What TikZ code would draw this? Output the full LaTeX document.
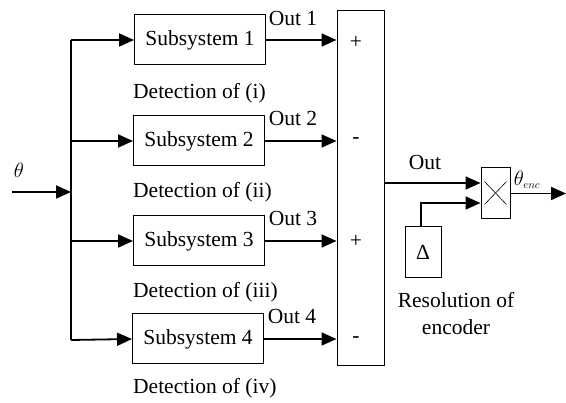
\documentclass[tikz,border=0pt]{standalone}
\usepackage{fontspec}
\setmainfont{Liberation Serif}[Ligatures=TeX]
\newfontfamily\tnr{Liberation Serif}
\usetikzlibrary{arrows.meta}
\begin{document}
\begin{tikzpicture}[x=1pt,y=-1pt,
  every node/.style={font=\tnr\fontsize{21.5}{25}\selectfont},
  blk/.style={draw,line width=1pt,minimum width=131pt,minimum height=50pt,inner sep=0pt},
  wire/.style={line width=1.8pt},
  arr/.style={wire,-{Triangle[length=15pt,width=13pt]}},
  lab/.style={inner sep=0pt},
  det/.style={inner sep=0pt,anchor=west}]
\useasboundingbox (0,0) rectangle (566,403);
% subsystems
\node[blk] (s1) at (200,40) {Subsystem 1};
\node[blk] (s2) at (199,141) {Subsystem 2};
\node[blk] (s3) at (199,241) {Subsystem 3};
\node[blk] (s4) at (198,339) {Subsystem 4};
% sum block
\node[draw,line width=1pt,minimum width=47pt,minimum height=355pt,inner sep=0pt] (sum) at (360.5,188.5) {};
\node[lab] (p1) at (356,42) {+};
\node[lab] (m2) at (356,141) {-};
\node[lab] (p3) at (356,241) {+};
\node[lab] (m4) at (356,340) {-};
% trunk
\coordinate (tt) at (71,40);
\coordinate (tb) at (71,340);
\coordinate (tin) at (71,192);
\coordinate (in) at (12,192);
\draw[wire,line width=1.2pt] (tt) -- (tb);
\draw[arr] (in) -- (tin);
\node[lab] (th) at (19,170) {$\theta$};
\draw[arr] (tt) -- (s1.west);
\draw[arr] (tin |- s2.west) -- (s2.west);
\draw[arr] (tin |- s3.west) -- (s3.west);
\draw[arr] (tb) -- (s4.west);
% outputs
\draw[arr] (s1.east) -- (sum.west |- s1.east);
\draw[arr] (s2.east) -- (sum.west |- s2.east);
\draw[arr] (s3.east) -- (sum.west |- s3.east);
\draw[arr] (s4.east) -- (sum.west |- s4.east);
\node[lab] (o1) at (293,18) {Out 1};
\node[lab] (o2) at (293,118) {Out 2};
\node[lab] (o3) at (293,218) {Out 3};
\node[lab] (o4) at (292,316) {Out 4};
% detection labels
\node[det] (d1) at (133,93) {Detection of (i)};
\node[det] (d2) at (133,192) {Detection of (ii)};
\node[det] (d3) at (133,292) {Detection of (iii)};
\node[det] (d4) at (133,388) {Detection of (iv)};
% multiplier
\node[draw,line width=1pt,minimum width=29pt,minimum height=51pt,inner sep=0pt] (mul) at (495.5,193.5) {};
\draw[line width=0.6pt] ([shift={(4,-15)}]mul.south west) -- ([shift={(-4,14)}]mul.north east);
\draw[line width=0.6pt] ([shift={(4,14)}]mul.north west) -- ([shift={(-4,-15)}]mul.south east);
\coordinate (so) at (sum.east |- 0,183);
\draw[arr] (so) -- (mul.west |- so);
\node[lab] (out) at (425,162) {Out};
% delta
\node[draw,line width=1pt,minimum width=36pt,minimum height=51pt,inner sep=0pt] (dl) at (423,252) {Δ};
\coordinate (dk) at (421,203);
\draw[arr] (dl.north -| dk) -- (dk) -- (mul.west |- dk);
\coordinate (oe) at (566,193.5);
\draw[arr] (mul.east) -- (oe);
\node[lab] (te) at (527,180) {$\theta_{\scriptscriptstyle enc}$};
\node[lab,align=center] (res) at (456,314) {Resolution of\\[2pt]encoder};
\end{tikzpicture}
\end{document}
